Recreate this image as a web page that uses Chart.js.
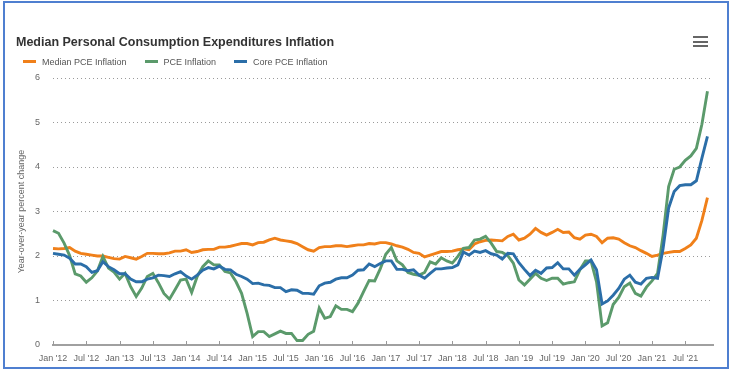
<!DOCTYPE html>
<html>
<head>
<meta charset="utf-8">
<script src="https://cdn.jsdelivr.net/npm/chart.js@4.4.0/dist/chart.umd.min.js"></script>
<style>
  body { margin: 0; background: #fff; font-family: "Liberation Sans", Arial, sans-serif; }
  #frame { position: absolute; left: 3px; top: 1px; width: 722px; height: 364px; border: 2px solid #4f7fd0; }
  #wrap { position: absolute; left: 0; top: 0; width: 732px; height: 372px; }
  #title { position: absolute; left: 16px; top: 34px; font-size: 12.5px; font-weight: bold; color: #333; line-height: 16px; white-space: nowrap; }
  #legend { position: absolute; left: 23px; top: 56px; font-size: 9px; color: #555; line-height: 12px; white-space: nowrap; }
  .item { display: inline-block; margin-right: 18px; }
  .swatch { display: inline-block; width: 13px; height: 3px; vertical-align: middle; margin-right: 6px; position: relative; top: -1px; }
  #menu { position: absolute; left: 693px; top: 36px; width: 15px; }
  #menu div { height: 2px; background: #666; margin-bottom: 2.5px; }
</style>
</head>
<body>
<div id="frame"></div>
<div id="wrap"><canvas id="chart" width="732" height="372"></canvas></div>
<div id="title">Median Personal Consumption Expenditures Inflation</div>
<div id="legend"></div>
<div id="menu"><div></div><div></div><div></div></div>
<script>
// monthly, Jan 2012 - Nov 2021 (axis runs to Dec 2021)
const monthNames = ['Jan', 'Feb', 'Mar', 'Apr', 'May', 'Jun', 'Jul', 'Aug', 'Sep', 'Oct', 'Nov', 'Dec'];
const months = [];
for (let y = 2012; y <= 2021; y++) {
    for (let m = 0; m < 12; m++) months.push(monthNames[m] + " '" + String(y).slice(2));
}

const medianPce = [
    2.17, 2.16, 2.17, 2.19, 2.11, 2.06, 2.04, 2.02, 2.00, 2.00, 1.97, 1.94,
    1.93, 1.99, 1.96, 1.93, 1.99, 2.06, 2.06, 2.05, 2.05, 2.07, 2.11, 2.11,
    2.14, 2.08, 2.10, 2.14, 2.15, 2.15, 2.20, 2.20, 2.22, 2.25, 2.28, 2.28,
    2.25, 2.30, 2.31, 2.36, 2.40, 2.36, 2.34, 2.32, 2.28, 2.21, 2.14, 2.11,
    2.19, 2.21, 2.21, 2.23, 2.23, 2.21, 2.23, 2.25, 2.25, 2.28, 2.27, 2.30,
    2.30, 2.27, 2.23, 2.20, 2.15, 2.08, 2.06, 1.98, 2.02, 2.06, 2.10, 2.10,
    2.11, 2.14, 2.16, 2.14, 2.27, 2.32, 2.35, 2.36, 2.35, 2.34, 2.44, 2.49,
    2.36, 2.40, 2.49, 2.62, 2.53, 2.47, 2.53, 2.60, 2.53, 2.54, 2.41, 2.38,
    2.47, 2.49, 2.44, 2.30, 2.40, 2.41, 2.38, 2.30, 2.23, 2.19, 2.12, 2.06,
    1.99, 2.02, 2.06, 2.08, 2.10, 2.10, 2.17, 2.25, 2.40, 2.80, 3.31
];
const pce = [
    2.57, 2.51, 2.29, 2.01, 1.60, 1.55, 1.41, 1.51, 1.66, 1.99, 1.73, 1.64,
    1.48, 1.61, 1.31, 1.09, 1.28, 1.54, 1.61, 1.40, 1.16, 1.03, 1.24, 1.46,
    1.48, 1.18, 1.54, 1.76, 1.89, 1.80, 1.80, 1.65, 1.62, 1.42, 1.16, 0.71,
    0.19, 0.30, 0.30, 0.19, 0.25, 0.31, 0.26, 0.26, 0.10, 0.10, 0.24, 0.31,
    0.83, 0.60, 0.64, 0.88, 0.80, 0.80, 0.75, 0.94, 1.20, 1.45, 1.44, 1.71,
    2.04, 2.19, 1.89, 1.80, 1.63, 1.59, 1.57, 1.63, 1.87, 1.82, 1.96, 1.89,
    1.84, 1.99, 2.17, 2.19, 2.36, 2.38, 2.44, 2.29, 2.10, 2.08, 2.01, 1.84,
    1.46, 1.35, 1.48, 1.61, 1.50, 1.45, 1.50, 1.50, 1.37, 1.40, 1.42, 1.69,
    1.89, 1.89, 1.42, 0.43, 0.50, 0.91, 1.07, 1.31, 1.39, 1.16, 1.10, 1.30,
    1.44, 1.61, 2.47, 3.56, 3.95, 4.00, 4.15, 4.25, 4.42, 4.96, 5.70
];
const corePce = [
    2.06, 2.04, 2.02, 1.95, 1.82, 1.82, 1.76, 1.63, 1.67, 1.87, 1.76, 1.69,
    1.60, 1.60, 1.48, 1.42, 1.42, 1.48, 1.51, 1.57, 1.56, 1.54, 1.60, 1.65,
    1.55, 1.48, 1.57, 1.68, 1.74, 1.71, 1.77, 1.70, 1.69, 1.59, 1.54, 1.48,
    1.38, 1.39, 1.35, 1.34, 1.29, 1.29, 1.20, 1.24, 1.23, 1.16, 1.16, 1.14,
    1.33, 1.39, 1.41, 1.48, 1.51, 1.51, 1.57, 1.68, 1.69, 1.82, 1.76, 1.83,
    1.89, 1.89, 1.70, 1.70, 1.67, 1.69, 1.57, 1.50, 1.61, 1.71, 1.71, 1.73,
    1.74, 1.80, 2.09, 2.02, 2.11, 2.08, 2.12, 2.05, 2.02, 1.93, 2.06, 2.05,
    1.85, 1.70, 1.56, 1.68, 1.61, 1.73, 1.74, 1.85, 1.71, 1.71, 1.57, 1.70,
    1.80, 1.91, 1.69, 0.92, 0.99, 1.12, 1.27, 1.48, 1.57, 1.41, 1.37, 1.50,
    1.52, 1.50, 2.17, 3.08, 3.45, 3.58, 3.60, 3.60, 3.69, 4.20, 4.69
];

const seriesNames = ['Median PCE Inflation', 'PCE Inflation', 'Core PCE Inflation'];
const seriesColors = ['#f0801a', '#5b9a6b', '#2b6ea8'];
const seriesData = [medianPce, pce, corePce];

// html legend
const legendEl = document.getElementById('legend');
seriesNames.forEach(function (name, i) {
    const item = document.createElement('span');
    item.className = 'item';
    item.innerHTML = '<span class="swatch" style="background:' + seriesColors[i] + '"></span>' + name;
    legendEl.appendChild(item);
});

// small tick marks that sit on top of the x axis line
const tickMarks = {
    id: 'tickMarks',
    afterDraw(chart) {
        const x = chart.scales.x;
        const ctx = chart.ctx;
        const bottom = chart.chartArea.bottom;
        ctx.save();
        ctx.strokeStyle = '#999';
        ctx.lineWidth = 1;
        x.ticks.forEach(function (t, i) {
            if (i % 6 !== 0) return;
            const px = Math.round(x.getPixelForTick(i)) + 0.5;
            ctx.beginPath();
            ctx.moveTo(px, bottom - 4);
            ctx.lineTo(px, bottom);
            ctx.stroke();
        });
        ctx.restore();
    }
};

const datasets = seriesNames.map(function (name, i) {
    return {
        label: name,
        data: seriesData[i],
        borderColor: seriesColors[i],
        backgroundColor: seriesColors[i],
        borderWidth: 2.9,
        pointRadius: 0,
        tension: 0,
        fill: false,
        order: 3 - i
    };
});

const config = {
    type: 'line',
    data: {
        labels: months,
        datasets: datasets
    },
    options: {
        responsive: false,
        animation: false,
        layout: {
            padding: { top: 78, right: 19, left: 12, bottom: 0 }
        },
        scales: {
            x: {
                offset: false,
                grid: { display: false, drawTicks: false },
                border: { display: true, color: '#a0a0a0', width: 2 },
                ticks: {
                    autoSkip: false,
                    maxRotation: 0,
                    padding: 8,
                    color: '#666',
                    font: { family: '"Liberation Sans", Arial, sans-serif', size: 9 },
                    callback: function (v, i) {
                        return i % 6 === 0 ? this.getLabelForValue(v) : '';
                    }
                },
                afterFit: function (scale) { scale.height = 27; }
            },
            y: {
                min: 0,
                max: 6,
                ticks: {
                    stepSize: 1,
                    padding: 13,
                    color: '#666',
                    font: { family: '"Liberation Sans", Arial, sans-serif', size: 9 }
                },
                grid: {
                    drawTicks: false,
                    color: function (c) { return c.tick && c.tick.value === 0 ? 'rgba(0,0,0,0)' : '#9a9a9a'; }
                },
                border: { display: false, dash: [1, 3] },
                title: {
                    display: true,
                    text: 'Year-over-year percent change',
                    color: '#666',
                    padding: { top: 4, bottom: 0 },
                    font: { family: '"Liberation Sans", Arial, sans-serif', size: 9 }
                },
                afterFit: function (scale) { scale.width = 41; }
            }
        },
        plugins: {
            legend: { display: false },
            title: { display: false },
            tooltip: { enabled: false }
        }
    },
    plugins: [tickMarks]
};

const myChart = new Chart(document.getElementById('chart'), config);
</script>
</body>
</html>
